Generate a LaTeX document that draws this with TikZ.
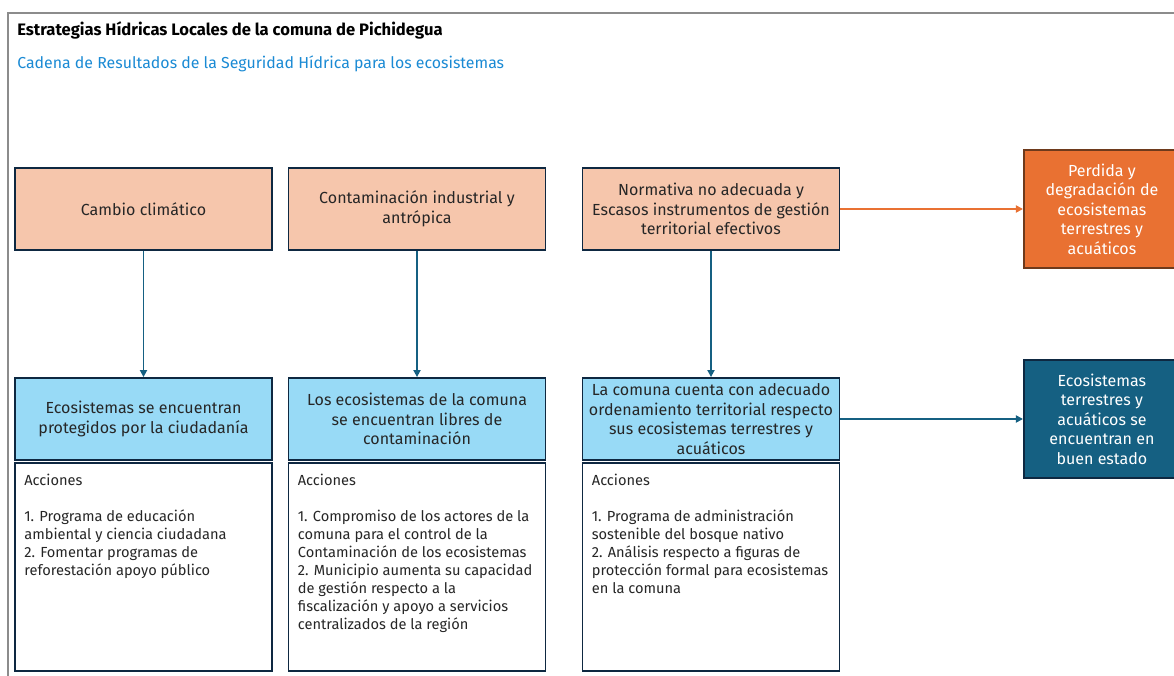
\documentclass[tikz,border=0pt]{standalone}
\usepackage{fontspec}
\setmainfont{Fira Sans}
\usepackage{tikz}
\usetikzlibrary{positioning}
\usetikzlibrary{arrows.meta}

\definecolor{navy}{HTML}{0E2841}
\definecolor{salmon}{HTML}{F6C6AC}
\definecolor{skyb}{HTML}{98DAF6}
\definecolor{orng}{HTML}{E97132}
\definecolor{brwn}{HTML}{6E3A1C}
\definecolor{deepb}{HTML}{156082}
\definecolor{subt}{HTML}{1A8AD4}
\definecolor{frm}{HTML}{8C8C8C}
\definecolor{ink}{HTML}{262626}

\begin{document}
\begin{tikzpicture}[
            cau/.style={
                rectangle,
                draw=navy,
                fill=salmon,
                line width=1.3pt,
                minimum width=6.425cm,
                minimum height=2.05cm,
                inner sep=1pt,
                align=center,
                text=ink,
                font=\fontsize{11.4}{13.9}\selectfont
            },
            res/.style={
                cau,
                fill=skyb
            },
            acc/.style={
                rectangle,
                draw=navy,
                fill=white,
                line width=1.3pt,
                minimum width=6.425cm,
                minimum height=5.2cm
            },
            acctxt/.style={
                inner sep=0pt,
                align=left,
                text=ink,
                font=\fontsize{10.4}{12.8}\selectfont
            },
            imp/.style={
                rectangle,
                draw=brwn,
                fill=orng,
                line width=1.3pt,
                minimum width=3.9cm,
                minimum height=2.95cm,
                inner sep=1pt,
                align=center,
                text=white,
                font=\fontsize{11.4}{13.9}\selectfont
            },
            fin/.style={
                imp,
                draw=navy,
                fill=deepb
            },
            arr/.style={
                draw=deepb,
                line width=1.2pt,
                -{Triangle[length=5pt,width=5pt]}
            }
        ]

            \clip (0,0) rectangle (29.35,16.875);

            % Frame
            \draw[frm, line width=1.3pt] (0.2,-1) |- (30,16.55);

            % Headers
            \node[anchor=west, inner sep=0pt, font=\fontsize{11.8}{14}\selectfont\bfseries] (title) at (0.425,16.125) {Estrategias Hídricas Locales de la comuna de Pichidegua};
            \node[anchor=west, inner sep=0pt, text=subt, font=\fontsize{11.3}{14}\selectfont] (subtitle) at (0.425,15.275) {Cadena de Resultados de la Seguridad Hídrica para los ecosistemas};

            % Causes
            \node[cau] (c1) at (3.5875,11.65) {Cambio climático};
            \node[cau] (c2) at (10.425,11.65) {Contaminación industrial y\\antrópica};
            \node[cau] (c3) at (17.775,11.65) {Normativa no adecuada y\\Escasos instrumentos de gestión\\territorial efectivos};
            \node[imp, anchor=west] (imp) at (25.575,11.65) {Perdida y\\degradación de\\ecosistemas\\terrestres y\\acuáticos};

            % Results
            \node[res] (r1) at (3.5875,6.4) {Ecosistemas se encuentran\\protegidos por la ciudadanía};
            \node[res] (r2) at (10.425,6.4) {Los ecosistemas de la comuna\\se encuentran libres de\\contaminación};
            \node[res] (r3) at (17.775,6.4) {La comuna cuenta con adecuado\\ordenamiento territorial respecto\\sus ecosistemas terrestres y\\acuáticos};
            \node[fin, anchor=west] (fin) at (25.575,6.4) {Ecosistemas\\terrestres y\\acuáticos se\\encuentran en\\buen estado};

            % Actions
            \node[acc] (a1) at (3.5875,2.7) {};
            \node[acc] (a2) at (10.425,2.7) {};
            \node[acc] (a3) at (17.775,2.7) {};
            \node[acctxt, anchor=north west] (a1t) at ([xshift=0.25cm,yshift=-0.3cm]a1.north west)
                {Acciones\\[12.8pt]1. Programa de educación\\ambiental y ciencia ciudadana\\2. Fomentar programas de\\reforestación apoyo público};
            \node[acctxt, anchor=north west] (a2t) at ([xshift=0.25cm,yshift=-0.3cm]a2.north west)
                {Acciones\\[12.8pt]1. Compromiso de los actores de la\\comuna para el control de la\\Contaminación de los ecosistemas\\2. Municipio aumenta su capacidad\\de gestión respecto a la\\fiscalización y apoyo a servicios\\centralizados de la región};
            \node[acctxt, anchor=north west] (a3t) at ([xshift=0.25cm,yshift=-0.3cm]a3.north west)
                {Acciones\\[12.8pt]1. Programa de administración\\sostenible del bosque nativo\\2. Análisis respecto a figuras de\\protección formal para ecosistemas\\en la comuna};

            % Connectors
            \draw[arr] (c1) -- (r1);
            \draw[arr] (c2) -- (r2);
            \draw[arr] (c3) -- (r3);
            \draw[arr, draw=orng, -{Triangle[length=5pt,width=5pt,fill=orng]}] (c3) -- (imp);
            \draw[arr] (r3) -- (fin);

        \end{tikzpicture}
\end{document}
